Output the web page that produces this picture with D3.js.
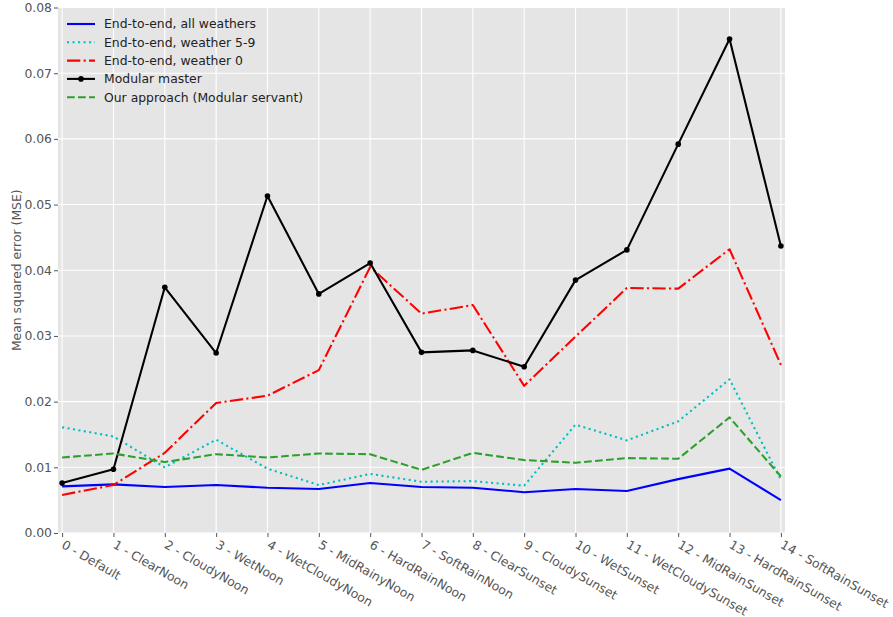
<!DOCTYPE html>
<html>
<head>
<meta charset="utf-8">
<script src="https://cdn.jsdelivr.net/npm/d3@7"></script>
<style>
  html, body { margin: 0; padding: 0; background: #ffffff; }
  svg { display: block; font-family: "DejaVu Sans", sans-serif; }
</style>
</head>
<body>
<svg id="chart" width="893" height="617"></svg>
<script>
const categories = ["0 - Default", "1 - ClearNoon", "2 - CloudyNoon", "3 - WetNoon", "4 - WetCloudyNoon",
  "5 - MidRainyNoon", "6 - HardRainNoon", "7 - SoftRainNoon", "8 - ClearSunset", "9 - CloudySunset",
  "10 - WetSunset", "11 - WetCloudySunset", "12 - MidRainSunset", "13 - HardRainSunset", "14 - SoftRainSunset"];

const e2eAll   = [0.0071, 0.0074, 0.0070, 0.0073, 0.0069, 0.0067, 0.0076, 0.0070, 0.0069, 0.0062, 0.0067, 0.0064, 0.0082, 0.0098, 0.0050];
const e2e59    = [0.0161, 0.0147, 0.0100, 0.0142, 0.0098, 0.0073, 0.0090, 0.0078, 0.0079, 0.0072, 0.0165, 0.0141, 0.0170, 0.0234, 0.0081];
const e2e0     = [0.0058, 0.0073, 0.0122, 0.0198, 0.0209, 0.0248, 0.0405, 0.0334, 0.0347, 0.0224, 0.0299, 0.0373, 0.0372, 0.0432, 0.0256];
const master   = [0.0076, 0.0097, 0.0374, 0.0274, 0.0513, 0.0364, 0.0411, 0.0275, 0.0278, 0.0253, 0.0385, 0.0431, 0.0592, 0.0752, 0.0437];
const servant  = [0.0115, 0.0121, 0.0108, 0.0120, 0.0115, 0.0121, 0.0120, 0.0096, 0.0122, 0.0111, 0.0107, 0.0114, 0.0113, 0.0176, 0.0086];

const yTicks = [0.00, 0.01, 0.02, 0.03, 0.04, 0.05, 0.06, 0.07, 0.08];

const seriesNames = ["End-to-end, all weathers", "End-to-end, weather 5-9", "End-to-end, weather 0",
  "Modular master", "Our approach (Modular servant)"];

const LW = 2.08;
const series = [
  {name: seriesNames[0], values: e2eAll,  color: "#0000ff", dash: null, marker: false},
  {name: seriesNames[1], values: e2e59,   color: "#00bfbf", dash: "2.08,3.43", marker: false},
  {name: seriesNames[2], values: e2e0,    color: "#ff0000", dash: "13.3,3.33,2.08,3.33", marker: false},
  {name: seriesNames[3], values: master,  color: "#000000", dash: null, marker: true},
  {name: seriesNames[4], values: servant, color: "#2ca02c", dash: "7.7,3.33", marker: false}
];

const L = 58, R = 785, T = 7.5, B = 533;
const FS = 12.4;
const svg = d3.select("#chart");

const x = d3.scaleLinear().domain([-0.08, 14.08]).range([L, R]);
const y = d3.scaleLinear().domain([0, 0.08]).range([B, T]);

svg.append("rect").attr("x", L).attr("y", T).attr("width", R - L).attr("height", B - T).attr("fill", "#e5e5e5");

// grid
svg.append("g").selectAll("line").data(yTicks).join("line")
  .attr("x1", L).attr("x2", R).attr("y1", d => y(d)).attr("y2", d => y(d))
  .attr("stroke", "#ffffff").attr("stroke-width", 1.1);
svg.append("g").selectAll("line").data(d3.range(categories.length)).join("line")
  .attr("y1", T).attr("y2", B).attr("x1", d => x(d)).attr("x2", d => x(d))
  .attr("stroke", "#ffffff").attr("stroke-width", 1.1);

// y axis
const yAxis = d3.axisLeft(y).tickValues(yTicks).tickFormat(d3.format(".2f")).tickSize(4).tickPadding(2);
const gy = svg.append("g").attr("transform", `translate(${L},0)`).call(yAxis);
gy.select(".domain").remove();
gy.selectAll(".tick line").attr("stroke", "#555555");
gy.selectAll(".tick text").attr("fill", "#555555").attr("font-size", FS).attr("font-family", "DejaVu Sans");

// x axis
const xAxis = d3.axisBottom(x).tickValues(d3.range(categories.length)).tickFormat(i => categories[i]).tickSize(4).tickPadding(3);
const gx = svg.append("g").attr("transform", `translate(0,${B})`).call(xAxis);
gx.select(".domain").remove();
gx.selectAll(".tick line").attr("stroke", "#555555");
gx.selectAll(".tick text")
  .attr("fill", "#555555").attr("font-size", FS).attr("font-family", "DejaVu Sans")
  .attr("text-anchor", "start").attr("dy", null).attr("y", null)
  .attr("dominant-baseline", "hanging")
  .attr("transform", "translate(3,6) rotate(30)");

// y label
svg.append("text")
  .attr("transform", `translate(21,${(T + B) / 2}) rotate(-90)`)
  .attr("text-anchor", "middle").attr("font-size", FS).attr("fill", "#555555")
  .text("Mean squared error (MSE)");

// lines
const line = d3.line().x((d, i) => x(i)).y(d => y(d));
series.forEach(s => {
  svg.append("path").datum(s.values).attr("d", line)
    .attr("fill", "none").attr("stroke", s.color).attr("stroke-width", LW)
    .attr("stroke-dasharray", s.dash).attr("stroke-linejoin", "round");
  if (s.marker) {
    svg.append("g").selectAll("circle").data(s.values).join("circle")
      .attr("cx", (d, i) => x(i)).attr("cy", d => y(d)).attr("r", 2.8).attr("fill", s.color);
  }
});

// legend
const lg = svg.append("g");
series.forEach((s, i) => {
  const yy = 24 + i * 18.3;
  lg.append("line").attr("x1", 67).attr("x2", 95).attr("y1", yy).attr("y2", yy)
    .attr("stroke", s.color).attr("stroke-width", LW).attr("stroke-dasharray", s.dash);
  if (s.marker) lg.append("circle").attr("cx", 81).attr("cy", yy).attr("r", 2.8).attr("fill", s.color);
  lg.append("text").attr("x", 104).attr("y", yy).attr("dy", "0.35em")
    .attr("font-size", FS).attr("fill", "#222222").text(s.name);
});
</script>
</body>
</html>
